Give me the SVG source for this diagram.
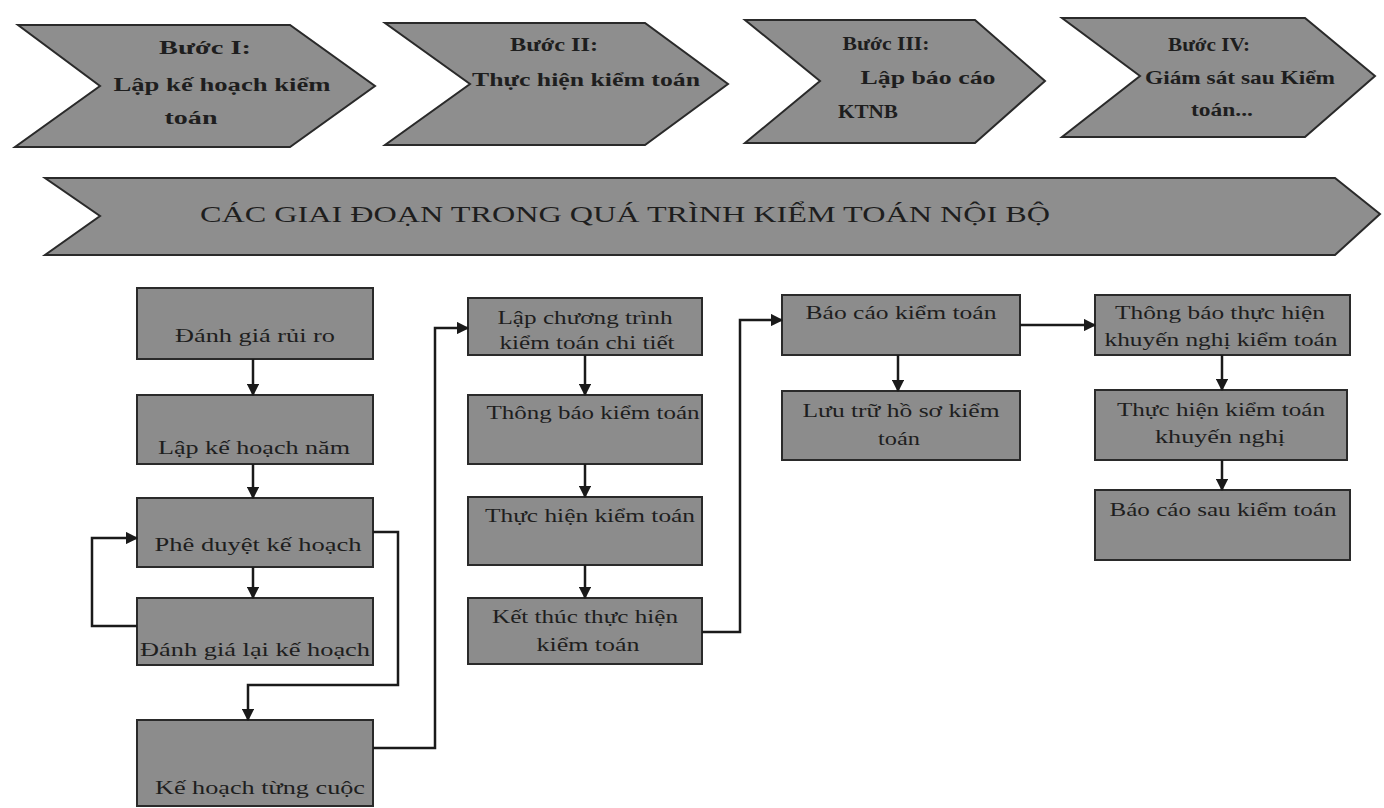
<svg xmlns="http://www.w3.org/2000/svg" width="1384" height="808" viewBox="0 0 1384 808">
<defs>
<marker id="ah" viewBox="0 0 10 10" refX="9" refY="5" markerWidth="5" markerHeight="5" orient="auto" markerUnits="strokeWidth"><path d="M0,0 L10,5 L0,10 z" fill="#1a1a1a"/></marker>
<style>
.shape{fill:#8e8e8e;stroke:#2a2a2a;stroke-width:2}
.box{fill:#8c8c8c;stroke:#2a2a2a;stroke-width:2}
.t{font-family:"Liberation Serif","Times New Roman",serif;font-size:19px;fill:#1e1e1e;text-anchor:middle}
.ct{font-family:"Liberation Serif","Times New Roman",serif;font-size:19px;font-weight:bold;fill:#1e1e1e;text-anchor:middle}
.bt{font-family:"Liberation Serif","Times New Roman",serif;font-size:23px;fill:#1e1e1e}
.c{fill:none;stroke:#1a1a1a;stroke-width:2.5;marker-end:url(#ah)}
</style>
</defs>
<rect width="1384" height="808" fill="#ffffff"/>
<g id="step1"><polygon class="shape" points="18,25 290,25 375,86 290,147 15,147 100,86"/>
<text class="ct" x="205" y="54" textLength="92" lengthAdjust="spacingAndGlyphs">Bước I:</text><text class="ct" x="222" y="91" textLength="217" lengthAdjust="spacingAndGlyphs">Lập kế hoạch kiểm</text><text class="ct" x="191" y="124" textLength="53" lengthAdjust="spacingAndGlyphs">toán</text></g>
<g id="step2"><polygon class="shape" points="385,23 645,23 728,84 645,145 385,145 470,84"/>
<text class="ct" x="554" y="51" textLength="88" lengthAdjust="spacingAndGlyphs">Bước II:</text><text class="ct" x="586" y="86" textLength="228" lengthAdjust="spacingAndGlyphs">Thực hiện kiểm toán</text></g>
<g id="step3"><polygon class="shape" points="745,20 975,20 1045,81 975,143 745,143 820,81"/>
<text class="ct" x="886" y="50" textLength="87" lengthAdjust="spacingAndGlyphs">Bước III:</text><text class="ct" x="928" y="84" textLength="135" lengthAdjust="spacingAndGlyphs">Lập báo cáo</text><text class="ct" x="868" y="118" textLength="60" lengthAdjust="spacingAndGlyphs">KTNB</text></g>
<g id="step4"><polygon class="shape" points="1062,18 1305,18 1375,76 1305,137 1062,137 1140,76"/>
<text class="ct" x="1209" y="51" textLength="82" lengthAdjust="spacingAndGlyphs">Bước IV:</text><text class="ct" x="1240" y="84" textLength="190" lengthAdjust="spacingAndGlyphs">Giám sát sau Kiểm</text><text class="ct" x="1222" y="116" textLength="62" lengthAdjust="spacingAndGlyphs">toán...</text></g>
<g id="banner"><polygon class="shape" points="45,178 1335,178 1380,214 1335,255 45,255 100,216"/>
<text class="bt" x="200" y="222" textLength="850" lengthAdjust="spacingAndGlyphs">CÁC GIAI ĐOẠN TRONG QUÁ TRÌNH KIỂM TOÁN NỘI BỘ</text></g>
<g id="danh-gia-rui-ro"><rect class="box" x="137" y="288" width="236" height="71"/><text class="t" x="255" y="342" textLength="160" lengthAdjust="spacingAndGlyphs">Đánh giá rủi ro</text></g>
<g id="lap-ke-hoach-nam"><rect class="box" x="137" y="395" width="236" height="69"/><text class="t" x="254" y="454" textLength="192" lengthAdjust="spacingAndGlyphs">Lập kế hoạch năm</text></g>
<g id="phe-duyet"><rect class="box" x="137" y="498" width="236" height="69"/><text class="t" x="258" y="551" textLength="207" lengthAdjust="spacingAndGlyphs">Phê duyệt kế hoạch</text></g>
<g id="danh-gia-lai"><rect class="box" x="137" y="598" width="236" height="67"/><text class="t" x="255" y="656" textLength="230" lengthAdjust="spacingAndGlyphs">Đánh giá lại kế hoạch</text></g>
<g id="ke-hoach-tung-cuoc"><rect class="box" x="137" y="720" width="236" height="86"/><text class="t" x="260" y="794" textLength="210" lengthAdjust="spacingAndGlyphs">Kế hoạch từng cuộc</text></g>
<g id="lap-chuong-trinh"><rect class="box" x="468" y="298" width="234" height="57"/><text class="t" x="585" y="324" textLength="175" lengthAdjust="spacingAndGlyphs">Lập chương trình</text><text class="t" x="587" y="349" textLength="175" lengthAdjust="spacingAndGlyphs">kiểm toán chi tiết</text></g>
<g id="thong-bao-kt"><rect class="box" x="468" y="395" width="234" height="69"/><text class="t" x="593" y="419" textLength="213" lengthAdjust="spacingAndGlyphs">Thông báo kiểm toán</text></g>
<g id="thuc-hien-kt"><rect class="box" x="468" y="497" width="234" height="68"/><text class="t" x="590" y="522" textLength="210" lengthAdjust="spacingAndGlyphs">Thực hiện kiểm toán</text></g>
<g id="ket-thuc"><rect class="box" x="468" y="598" width="234" height="66"/><text class="t" x="585" y="623" textLength="186" lengthAdjust="spacingAndGlyphs">Kết thúc thực hiện</text><text class="t" x="588" y="651" textLength="103" lengthAdjust="spacingAndGlyphs">kiểm toán</text></g>
<g id="bao-cao-kt"><rect class="box" x="782" y="295" width="238" height="60"/><text class="t" x="901" y="319" textLength="191" lengthAdjust="spacingAndGlyphs">Báo cáo kiểm toán</text></g>
<g id="luu-tru"><rect class="box" x="782" y="391" width="238" height="69"/><text class="t" x="901" y="417" textLength="197" lengthAdjust="spacingAndGlyphs">Lưu trữ hồ sơ kiểm</text><text class="t" x="899" y="445" textLength="42" lengthAdjust="spacingAndGlyphs">toán</text></g>
<g id="thong-bao-kn"><rect class="box" x="1095" y="295" width="255" height="60"/><text class="t" x="1220" y="319" textLength="210" lengthAdjust="spacingAndGlyphs">Thông báo thực hiện</text><text class="t" x="1221" y="346" textLength="233" lengthAdjust="spacingAndGlyphs">khuyến nghị kiểm toán</text></g>
<g id="thuc-hien-kn"><rect class="box" x="1095" y="390" width="252" height="70"/><text class="t" x="1221" y="416" textLength="208" lengthAdjust="spacingAndGlyphs">Thực hiện kiểm toán</text><text class="t" x="1220" y="443" textLength="130" lengthAdjust="spacingAndGlyphs">khuyến nghị</text></g>
<g id="bao-cao-sau"><rect class="box" x="1095" y="490" width="255" height="70"/><text class="t" x="1223" y="516" textLength="227" lengthAdjust="spacingAndGlyphs">Báo cáo sau kiểm toán</text></g>
<g id="connectors">
<path class="c" d="M253,359 V395"/>
<path class="c" d="M253,464 V498"/>
<path class="c" d="M253,567 V598"/>
<path class="c" d="M137,626 H92 V538 H137"/>
<path class="c" d="M373,532 H398 V685 H248 V720"/>
<path class="c" d="M373,748 H435 V328 H468"/>
<path class="c" d="M585,355 V395"/>
<path class="c" d="M585,464 V497"/>
<path class="c" d="M585,565 V598"/>
<path class="c" d="M702,632 H740 V320 H782"/>
<path class="c" d="M898,355 V391"/>
<path class="c" d="M1020,325 H1095"/>
<path class="c" d="M1222,355 V390"/>
<path class="c" d="M1222,460 V490"/>
</g>
</svg>
